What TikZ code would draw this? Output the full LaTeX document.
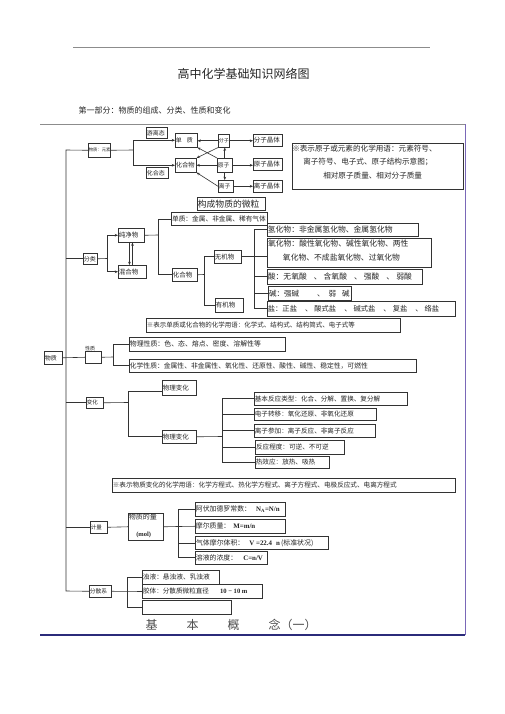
\documentclass[tikz,border=0pt]{standalone}
\usepackage{fontspec}
\setmainfont{Noto Sans CJK SC}
\newfontfamily\latinserif{Liberation Serif}
\usetikzlibrary{arrows.meta}
\newcommand\fs[1]{\fontsize{#1}{#1}\selectfont}
\newcommand\BX[7][bx]{\node[#1] (#2) at (#3,#4) {\parbox[c][#6pt][c]{#5pt}{\hspace*{0.6pt}#7}};}
\definecolor{frgray}{HTML}{8C8C8C}
\definecolor{frpurple}{HTML}{7A68B8}
\definecolor{frnavy}{HTML}{2B2B7A}
\definecolor{lncol}{HTML}{333333}
\begin{document}
\begin{tikzpicture}[x=1pt,y=-1pt,
  every node/.style={text=black!85},
  bx/.style={draw=lncol, line width=0.55pt, inner sep=0pt, anchor=north west},
  bxthick/.style={bx, line width=0.95pt},
  ln/.style={draw=lncol, line width=0.6pt},
  arr/.style={ln, -{Stealth[length=3.2pt,width=2.6pt]}}]
\useasboundingbox (0,0) rectangle (505,714);
\fill[white] (0,0) rectangle (505,714);
% header
\coordinate (hl1) at (73,47); \coordinate (hl2) at (430,47);
\draw[frgray, line width=0.5pt] (hl1) -- (hl2);
\node[font=\fs{12}] (title) at (243.5,74) {高中化学基础知识网络图};
\node[font=\fs{8}, anchor=west] (sub) at (75,110) {第一部分：物质的组成、分类、性质和变化};
% frame
\coordinate (f1) at (40,124.5); \coordinate (f2) at (465,124.5);
\coordinate (f3) at (465,635); \coordinate (f4) at (40,635);
\draw[frgray, line width=1pt] (f1) -- (f2);
\draw[frpurple, line width=1pt] (f2) -- (f3);
\draw[frnavy, line width=1.1pt] (f3) -- (f4);
% row 1
\BX{wzys}{88}{143}{22}{14}{\fs{4.3}物质：元素}
\BX{ylt}{146}{127}{21}{11}{\fs{6}游离态}
\BX{hht}{146}{167}{22}{11}{\fs{6}化合态}
\BX{dz}{175}{133}{22}{14}{\fs{6}单\hspace{5pt}质}
\BX{hhw}{175}{158}{21}{14}{\fs{6.3}化合物}
\BX{fz}{218}{134}{11}{13}{\fs{5}分子}
\BX{yz}{217}{158}{15}{14}{\fs{5.8}原子}
\BX{lz}{218}{180}{15}{12}{\fs{5.8}离子}
\BX{fzjt}{253}{134}{29}{12}{\fs{6.5}分子晶体}
\BX{yzjt}{253}{158}{29}{12}{\fs{6.5}原子晶体}
\BX{lzjt}{253}{180}{29}{12}{\fs{6.5}离子晶体}
\BX{gcwl}{197}{197}{68}{13}{\fs{8.8}构成物质的微粒}
\node[bx] (note1) at (292,143) {\parbox[c][46pt][t]{171pt}{\fontsize{7.6}{13.5}\selectfont\vspace*{1.5pt}※表示原子或元素的化学用语：元素符号、\\\hspace*{11pt}离子符号、电子式、原子结构示意图；\\\hspace*{31pt}相对原子质量、相对分子质量}};
\coordinate (c1) at (133,150);
\draw[ln] (wzys.east) -- (c1);
\draw[arr] (c1) |- (dz.west);
\draw[arr] (c1) |- (hhw.west);
\draw[arr] (fz.west) -- (fz.west -| dz.east);
\draw[arr] (yz.west) -- (yz.west -| hhw.east);
\draw[arr] (fz.south west) -- (hhw.north east);
\draw[arr] (yz.north west) -- (dz.south east);
\draw[arr] (lz.west) -- (hhw.south east);
\draw[arr] (yz.north) -- (yz.north |- fz.south);
\draw[arr] (yz.south) -- (yz.south |- lz.north);
\draw[arr] (fz.east) -- (fz.east -| fzjt.west);
\draw[arr] (yz.east) -- (yz.east -| yzjt.west);
\draw[arr] (lz.east) -- (lzjt.west);
% row 2
\BX{fl}{83}{253}{14}{11}{\fs{6}分类}
\BX{cjw}{118}{228}{26}{14}{\fs{6.5}纯净物}
\BX{hhw2}{118}{265}{28}{13}{\fs{6.5}混合物}
\coordinate (c2) at (107,258.5);
\draw[ln] (fl.east) -- (c2);
\draw[arr] (c2) |- (cjw.west);
\draw[arr] (c2) |- (hhw2.west);
\draw[arr] ([xshift=-1.8pt]cjw.south) -- ([xshift=-1.8pt]cjw.south |- hhw2.north);
\draw[arr] ([xshift=1.2pt]cjw.south |- hhw2.north) -- ([xshift=1.2pt]cjw.south);
\BX[bxthick]{dz2}{171}{212}{96}{13}{\fs{6.7}单质：金属、非金属、稀有气体}
\BX{hhw3}{172}{268}{25}{13}{\fs{6.5}化合物}
\coordinate (c3) at (158,235);
\draw[ln] (cjw.east) -- (c3);
\draw[ln] (c3) |- (dz2.west);
\draw[ln] (c3) |- (hhw3.west);
\BX{wjw}{214}{250}{27}{13}{\fs{6.5}无机物}
\BX{yjw}{215}{298}{28}{14}{\fs{6.5}有机物}
\coordinate (c4) at (204,274.5);
\draw[ln] (hhw3.east) -- (c4);
\draw[ln] (c4) |- (wjw.west);
\draw[ln] (c4) |- (yjw.west);
\BX{qhw}{267}{223}{151}{13}{\fs{7.8}氢化物：非金属氢化物、金属氢化物}
\node[bxthick] (yhw) at (267,238) {\parbox[c][29pt][t]{164pt}{\fontsize{7.8}{14}\selectfont\vspace*{1pt}\hspace*{0.6pt}氧化物：酸性氧化物、碱性氧化物、两性\\\hspace*{15.5pt}氧化物、不成盐氧化物、过氧化物}};
\BX{suan}{267}{269}{155}{15}{\fs{7.8}酸：无氧酸\hspace{7pt}、\hspace{2pt}含氧酸\hspace{7pt}、\hspace{2pt}强酸\hspace{7pt}、\hspace{2pt}弱酸}
\BX[bxthick]{jian}{268}{286}{83}{14}{\fs{7.5}碱：强碱\hspace{18pt}、\hspace{4pt}弱\hspace{6pt}碱}
\BX{yan}{267}{301}{188}{15}{\fs{7.3}盐：正盐\hspace{8pt}、\hspace{2pt}酸式盐\hspace{8pt}、\hspace{2pt}碱式盐\hspace{8pt}、\hspace{2pt}复盐\hspace{8pt}、\hspace{2pt}络盐}
\coordinate (c5) at (254,256.5);
\draw[ln] (wjw.east) -- (wjw.east -| yhw.west);
\draw[ln] (c5) |- (qhw.west);
\draw[ln] (c5) |- (suan.west);
\draw[ln] (c5) |- (jian.west);
\draw[ln] (c5) |- (yan.west);
\BX{note2}{146}{318}{254}{14}{\fs{6.5}※表示单质或化合物的化学用语：化学式、结构式、结构简式、电子式等}
% row 3
\BX{wz0}{44}{351}{18}{13}{\fs{6}物质}
\node[bx, minimum width=16pt, minimum height=12pt, label={[font=\fs{5}, inner sep=0pt, anchor=south west]north west:性质}] (xz) at (85,351) {};
\coordinate (c6) at (113,357);
\draw[ln] (wz0.east) -- (xz.west);
\draw[ln] (xz.east) -- (c6);
\BX{wlxz}{129}{337}{156}{14}{\fs{6.9}物理性质：色、态、熔点、密度、溶解性等}
\BX{hxxz}{129}{359}{287}{13}{\fs{6.8}化学性质：金属性、非金属性、氧化性、还原性、酸性、碱性、稳定性，可燃性}
\draw[ln] (c6) |- (wlxz.west);
\draw[ln] (c6) |- (hxxz.west);
% row 4
\BX{bh}{86}{397}{17}{11}{\fs{5.5}变化}
\BX{wlbh1}{162}{380}{34}{15}{\fs{6.5}物理变化}
\BX{wlbh2}{162}{430}{34}{13}{\fs{6.5}物理变化}
\coordinate (c7) at (128,402.5);
\draw[ln] (bh.east) -- (c7);
\draw[ln] (c7) |- ([yshift=-3.5pt]wlbh1.west);
\draw[ln] (c7) |- (wlbh2.west);
\BX{jb}{254}{392}{153}{13}{\fs{6.6}基本反应类型：化合、分解、置换、复分解}
\BX{dzzy}{254}{408}{122}{12}{\fs{6.6}电子转移：氧化还原、非氧化还原}
\BX{lzcj}{254}{424}{121}{13}{\fs{6.6}离子参加：离子反应、非离子反应}
\BX[bxthick]{fycd}{255}{440}{89}{14}{\fs{6.6}反应程度：可逆、不可逆}
\BX{rxy}{255}{456}{74}{12}{\fs{6.6}热效应：放热、吸热}
\coordinate (c8) at (222,436.5);
\draw[ln] (wlbh2.east) -- (c8);
\draw[ln] (c8) |- (jb.west);
\draw[ln] (c8) |- (dzzy.west);
\draw[ln] (c8) |- (lzcj.west);
\draw[ln] (c8) |- (fycd.west);
\draw[ln] (c8) |- (rxy.west);
\BX{note3}{112}{478}{343}{14}{\fs{6.6}※表示物质变化的化学用语：化学方程式、热化学方程式、离子方程式、电极反应式、电离方程式}
% row 5
\BX{jl}{90}{521}{17}{12}{\fs{5.5}计量}
\node[bx] (wzdl) at (128,513) {\parbox[c][27pt][t]{35pt}{\fs{7}\hspace*{0.6pt}物质的量\par\vspace{10pt}\hspace*{8pt}{\latinserif\bfseries\fs{6.5}(mol)}}};
\coordinate (c9) at (178,526.5);
\draw[ln] (jl.east) -- (wzdl.west);
\draw[ln] (wzdl.east) -- (c9);
\BX{afj}{195}{502}{90}{14}{\fs{6.9}阿伏加德罗常数：\hspace{5pt}{\latinserif\bfseries N\textsubscript{A}=N/n}}
\BX{mezl}{195}{519}{90}{14}{\fs{6.9}摩尔质量：\hspace{3pt}{\latinserif\bfseries M=m/n}}
\BX[bxthick]{qtmr}{195}{536}{133}{13}{\fs{6.9}气体摩尔体积：\hspace{5pt}{\latinserif\bfseries V =22.4\hspace{4pt}n}\,(标准状况)}
\BX{rynd}{195}{551}{72}{13}{\fs{6.9}溶液的浓度：\hspace{6pt}{\latinserif\bfseries C=n/V}}
\draw[ln] (c9) |- (afj.west);
\draw[ln] (c9) -- (mezl.west);
\draw[ln] (c9) |- (qtmr.west);
\draw[ln] (c9) |- (rynd.west);
% row 6
\BX{fsx}{89}{585}{22}{12}{\fs{5.8}分散系}
\BX{zy}{142}{570}{77}{14}{\fs{6.7}浊液：悬浊液、乳浊液}
\BX[bxthick]{jt}{142}{584}{120}{14}{\fs{6.6}胶体：分散质微粒直径\hspace{11pt}{\latinserif\bfseries 10 − 10 m}}
\BX{kong}{142}{600}{89}{14}{}
\coordinate (c10) at (127,591);
\draw[ln] (fsx.east) -- (jt.west);
\draw[ln] (c10) |- (zy.west);
\draw[ln] (c10) |- (kong.west);
% trunk
\coordinate (tr1) at (66,150); \coordinate (tr2) at (66,591);
\draw[ln] (wzys.west) -- (tr1) -- (tr2) -- (fsx.west);
\draw[ln] (tr1 |- fl.west) -- (fl.west);
\draw[ln] (tr1 |- bh.west) -- (bh.west);
\draw[ln] (tr1 |- jl.west) -- (jl.west);
\node[font=\fs{12}, anchor=west, text=black!70] (jbgn) at (142,625) {基\hspace{29pt}本\hspace{29pt}概\hspace{29pt}念（一）};
\end{tikzpicture}
\end{document}
